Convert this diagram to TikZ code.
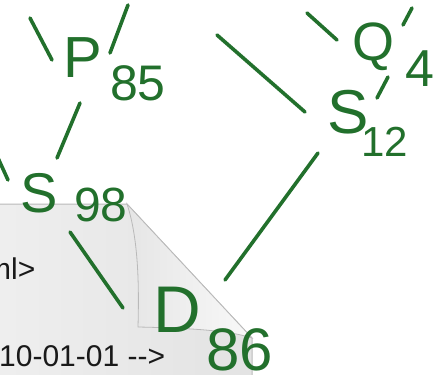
\documentclass[tikz,border=0pt]{standalone}
\usepackage{fontspec}
\setmainfont{Liberation Sans}
\definecolor{ink}{RGB}{34,112,44}
\definecolor{pageedge}{RGB}{185,185,185}
\begin{document}
\begin{tikzpicture}[x=1pt,y=-1pt,
  hand/.style={text=ink,inner sep=0pt,font=\fontsize{#1}{#1}\selectfont},
  hand/.default=54,
  stroke/.style={draw=ink,line width=3.6pt,line cap=round},
  pagetext/.style={inner sep=0pt,anchor=base west,font=\fontsize{30}{30}\selectfont,text=black!90}]
\useasboundingbox (0,0) rectangle (437,375);
\clip (0,0) rectangle (437,375);
% page with folded corner
\path[draw=pageedge,line width=1pt,left color=gray!13,right color=gray!22]
  (-5,204) -- (127,204) -- (252,338) -- (252,385) -- (-5,385) -- cycle;
\path[draw=pageedge,line width=0.8pt,left color=gray!20,right color=gray!5]
  (127,204) .. controls (139,240) and (139,290) .. (138,327)
  .. controls (185,328) and (228,330) .. (252,338) -- cycle;
\node[pagetext] (t1) at (-14,279) {ml>};
\node[pagetext] (t2) at (-1,366) {10-01-01 -{}->};
% handwritten letters
\node[hand=58] (P) at (83,58) {P};
\node[hand=50] (n85) at (138,83) {85};
\node[hand=56] (S1) at (39,193) {S};
\node[hand=48] (n98) at (101,205) {98};
\node[hand=54] (Q) at (373,47) {Q};
\node[hand=52] (n4) at (420,69) {4};
\node[hand=62] (S2) at (348,112) {S};
\node[hand=42] (n12) at (385,142) {12};
\node[hand=66] (D) at (177,310) {D};
\node[hand=60] (n86) at (240,350) {86};
% strokes
\coordinate (a1) at (30,18); \coordinate (a2) at (52,60);
\coordinate (b1) at (128,5); \coordinate (b2) at (110,53);
\coordinate (c1) at (80,103); \coordinate (c2) at (57,158);
\coordinate (d1) at (-2,158); \coordinate (d2) at (8,180);
\coordinate (e1) at (70,232); \coordinate (e2) at (123,308);
\coordinate (f1) at (318,153); \coordinate (f2) at (225,280);
\coordinate (g1) at (217,35); \coordinate (g2) at (305,112);
\coordinate (h1) at (307,13); \coordinate (h2) at (337,40);
\coordinate (i1) at (388,77); \coordinate (i2) at (377,98);
\coordinate (j1) at (412,8); \coordinate (j2) at (403,25);
\foreach \s in {a,b,c,d,e,f,g,h,i,j} \draw[stroke] (\s1) -- (\s2);
\end{tikzpicture}
\end{document}
